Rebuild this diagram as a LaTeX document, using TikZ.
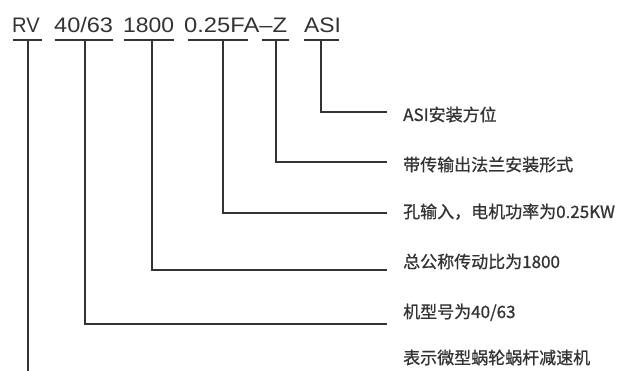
\documentclass[tikz,border=0pt]{standalone}
\usepackage{fontspec}
\setmainfont{Liberation Sans}
\newfontfamily\cjk{Noto Sans CJK SC}[FakeBold=0.8]
\definecolor{ink}{HTML}{333333}
\begin{document}
\begin{tikzpicture}[x=1pt,y=-1pt,
  code/.style={anchor=base west, inner sep=0pt, text=ink, font=\fontsize{21}{21}\selectfont},
  desc/.style={anchor=base west, inner sep=0pt, text=ink, font=\cjk\fontsize{17}{18}\selectfont},
  bar/.style={draw=ink, line width=1.6pt},
  lead/.style={draw=ink, line width=1.4pt}]
\fill[white] (0,0) rectangle (622,371);
\useasboundingbox (0,0) rectangle (622,371);
% top code
\node[code] (rv) at (12,33) {\scalebox{0.96}[1]{RV}};
\node[code] (md) at (54,33) {\scalebox{1.12}[1]{40/63}};
\node[code] (ra) at (123,33) {\scalebox{1.09}[1]{1800}};
\node[code] (pw) at (184,33) {\scalebox{1.13}[1]{0.25FA--Z}};
\node[code] (as) at (304,33) {\scalebox{1.09}[1]{ASI}};
% bars
\coordinate (rvL) at (13,40);  \coordinate (rvR) at (42,40);
\coordinate (mdL) at (55,40);  \coordinate (mdR) at (113,40);
\coordinate (raL) at (124,40); \coordinate (raR) at (174,40);
\coordinate (pwL) at (188,40); \coordinate (pwR) at (248,40);
\coordinate (zL) at (262,40);  \coordinate (zR) at (289,40);
\coordinate (asL) at (304,40); \coordinate (asR) at (339,40);
\foreach \n in {rv,md,ra,pw,z,as} \draw[bar] (\n L) -- (\n R);
% stems
\coordinate (rvS) at (28,40);  \coordinate (rvE) at (28,371);
\coordinate (mdS) at (85,40);  \coordinate (mdE) at (387,324);
\coordinate (raS) at (152,40); \coordinate (raE) at (387,270);
\coordinate (pwS) at (223,40); \coordinate (pwE) at (387,213);
\coordinate (zS) at (276,40);  \coordinate (zE) at (387,162);
\coordinate (asS) at (321,40); \coordinate (asE) at (387,112);
\draw[lead] (rvS) -- (rvE);
\foreach \n in {md,ra,pw,z,as} \draw[lead] (\n S) |- (\n E);
% descriptions
\node[desc] (d1) at (403,121) {ASI安装方位};
\node[desc] (d2) at (403,171) {带传输出法兰安装形式};
\node[desc] (d3) at (403,218) {孔输入，电机功率为0.25KW};
\node[desc] (d4) at (403,268) {总公称传动比为1800};
\node[desc] (d5) at (403,318) {机型号为40/63};
\node[desc] (d6) at (403,364) {表示微型蜗轮蜗杆减速机};
\end{tikzpicture}
\end{document}
